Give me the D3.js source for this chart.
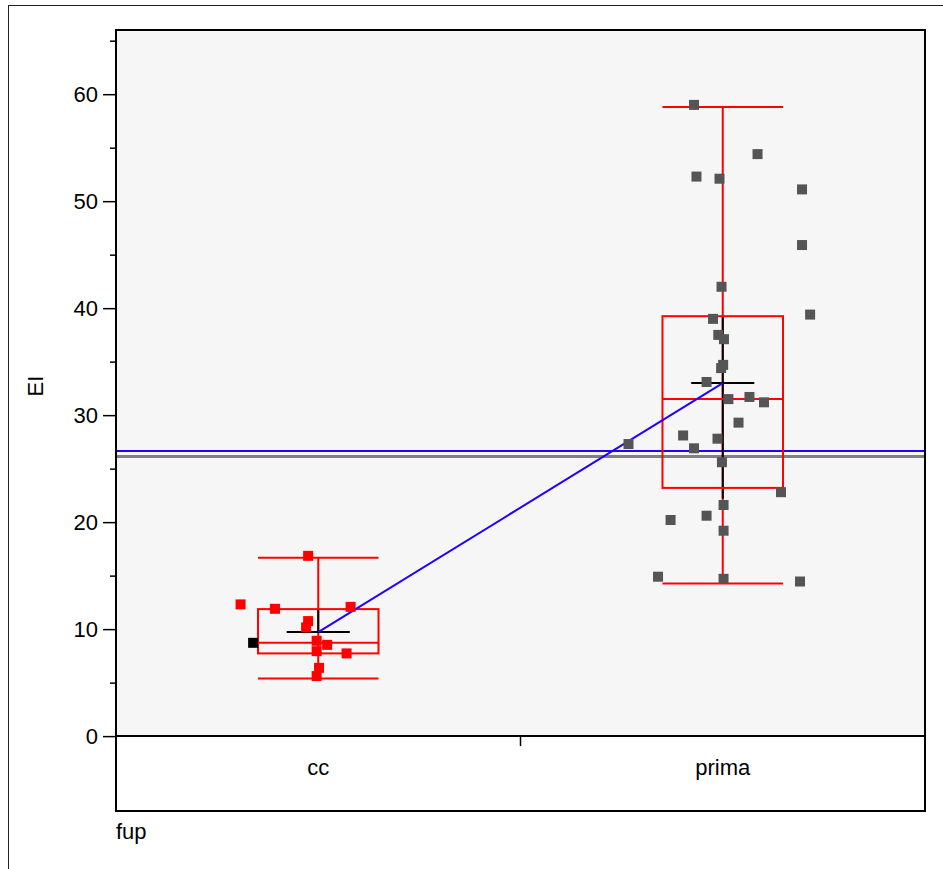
<!DOCTYPE html>
<html>
<head>
<meta charset="utf-8">
<script src="https://cdn.jsdelivr.net/npm/d3@7"></script>
<style>
  html, body { margin: 0; padding: 0; background: #fff; }
  svg { display: block; font-family: "Liberation Sans", Arial, sans-serif; }
</style>
</head>
<body>
<svg id="chart" width="943" height="869"></svg>
<script>
// Group labels on the x axis
const categories = ["cc", "prima"];

// EI values per group, with horizontal jitter (fraction of group spacing)
const ccValues   = [16.85, 12.31, 11.90, 12.08, 10.75, 10.16, 8.72, 8.91, 8.53, 7.94, 7.73, 6.38, 5.61];
const ccJitter   = [-0.025, -0.192, -0.107, 0.080, -0.025, -0.030, -0.161, -0.004, 0.022, -0.004, 0.070, 0.002, -0.004];
const ccSelected = [false, false, false, false, false, false, true, false, false, false, false, false, false];

const primaValues = [59.0, 54.4, 52.3, 52.1, 51.1, 45.9, 42.0, 39.4, 39.0, 37.5, 37.1, 34.7, 34.4, 33.1, 31.5, 31.7,
                     31.2, 29.3, 28.1, 27.8, 27.3, 26.9, 25.6, 22.8, 21.6, 20.2, 20.6, 19.2, 14.9, 14.7, 14.45];
const primaJitter = [-0.071, 0.086, -0.065, -0.008, 0.196, 0.196, -0.003, 0.216, -0.024, -0.011, 0.003, 0.001, -0.004, -0.040, 0.014, 0.066,
                     0.102, 0.039, -0.098, -0.013, -0.233, -0.071, -0.002, 0.144, 0.002, -0.129, -0.040, 0.002, -0.160, 0.002, 0.191];

// Box plot summaries per group (cc, prima)
const whiskerLow  = [5.39, 14.27];
const quartile1   = [7.73, 23.2];
const medians     = [8.72, 31.5];
const quartile3   = [11.87, 39.25];
const whiskerHigh = [16.66, 58.8];

// Group means and the black mean bar extent
const means     = [9.72, 33.0];
const meanBarLo = [9.72, 22.2];
const meanBarHi = [11.78, 39.2];

// Reference lines across the plot
const refBlue = 26.66;
const refGray = 26.14;

// Y axis ticks
const majorTicks = [0, 10, 20, 30, 40, 50, 60];
const minorTicks = [5, 15, 25, 35, 45, 55, 65];

const yTitle = "EI";
const xTitle = "fup";

const svg = d3.select("#chart");
const plot = { left: 116, right: 925, top: 30, bottom: 811 };

const y = d3.scaleLinear().domain([-7.0, 66.0]).range([plot.bottom, plot.top]);
const x = d3.scalePoint().domain(categories).range([plot.left, plot.right]).padding(0.5);
const step = x.step();

// outer frame
svg.append("rect").attr("x", 8.5).attr("y", 5.5).attr("width", 1000).attr("height", 1000)
  .attr("fill", "none").attr("stroke", "#222").attr("stroke-width", 1);

// shaded data region (values >= 0)
svg.append("rect")
  .attr("x", plot.left).attr("y", plot.top)
  .attr("width", plot.right - plot.left).attr("height", y(0) - plot.top)
  .attr("fill", "#f6f6f6");

const g = svg.append("g");

// reference lines
g.append("line").attr("x1", plot.left).attr("x2", plot.right)
  .attr("y1", y(refGray)).attr("y2", y(refGray))
  .attr("stroke", "#808080").attr("stroke-width", 3);
g.append("line").attr("x1", plot.left).attr("x2", plot.right)
  .attr("y1", y(refBlue)).attr("y2", y(refBlue))
  .attr("stroke", "#2200ff").attr("stroke-width", 2);

// box plots
const boxHalf = 0.149 * step;
categories.forEach((c, i) => {
  const cx = x(c);
  const bg = g.append("g").attr("stroke", "#ff0000").attr("stroke-width", 2).attr("fill", "none");
  bg.append("line").attr("x1", cx).attr("x2", cx).attr("y1", y(whiskerHigh[i])).attr("y2", y(whiskerLow[i]));
  bg.append("line").attr("x1", cx - boxHalf).attr("x2", cx + boxHalf).attr("y1", y(whiskerHigh[i])).attr("y2", y(whiskerHigh[i]));
  bg.append("line").attr("x1", cx - boxHalf).attr("x2", cx + boxHalf).attr("y1", y(whiskerLow[i])).attr("y2", y(whiskerLow[i]));
  // mean bar (black) inside the box
  g.append("line").attr("x1", cx).attr("x2", cx).attr("y1", y(meanBarHi[i])).attr("y2", y(meanBarLo[i]))
    .attr("stroke", "#000").attr("stroke-width", 2);
  const bx = g.append("g").attr("stroke", "#ff0000").attr("stroke-width", 2).attr("fill", "none");
  bx.append("rect").attr("x", cx - boxHalf).attr("y", y(quartile3[i]))
    .attr("width", 2 * boxHalf).attr("height", y(quartile1[i]) - y(quartile3[i]));
  bx.append("line").attr("x1", cx - boxHalf).attr("x2", cx + boxHalf).attr("y1", y(medians[i])).attr("y2", y(medians[i]));
  // mean tick
  g.append("line").attr("x1", cx - 0.078 * step).attr("x2", cx + 0.078 * step)
    .attr("y1", y(means[i])).attr("y2", y(means[i]))
    .attr("stroke", "#000").attr("stroke-width", 2);
});

// line connecting the group means
g.append("path")
  .datum(categories.map((c, i) => [x(c), y(means[i])]))
  .attr("d", d3.line())
  .attr("fill", "none").attr("stroke", "#2200ff").attr("stroke-width", 2);

// data points
const sq = 10;
const pts = [];
ccValues.forEach((v, i) => pts.push({ cat: "cc", v, j: ccJitter[i], color: ccSelected[i] ? "#000000" : "#ff0000" }));
primaValues.forEach((v, i) => pts.push({ cat: "prima", v, j: primaJitter[i], color: "#555555" }));
g.selectAll("rect.pt").data(pts).join("rect")
  .attr("class", "pt")
  .attr("x", d => x(d.cat) + d.j * step - sq / 2)
  .attr("y", d => y(d.v) - sq / 2)
  .attr("width", sq).attr("height", sq)
  .attr("fill", d => d.color);

// x axis line at zero
svg.append("line").attr("x1", plot.left).attr("x2", plot.right)
  .attr("y1", y(0)).attr("y2", y(0)).attr("stroke", "#000").attr("stroke-width", 2);
// divider tick between groups
svg.append("line").attr("x1", (x("cc") + x("prima")) / 2).attr("x2", (x("cc") + x("prima")) / 2)
  .attr("y1", y(0)).attr("y2", y(0) + 10).attr("stroke", "#000").attr("stroke-width", 1.5);

// category labels
svg.selectAll("text.cat").data(categories).join("text")
  .attr("class", "cat")
  .attr("x", d => x(d)).attr("y", 775)
  .attr("text-anchor", "middle").attr("font-size", 22).attr("fill", "#000")
  .text(d => d);

// y axis
const yAxis = d3.axisLeft(y).tickValues(majorTicks).tickSize(13).tickPadding(5).tickFormat(d3.format("d"));
const ya = svg.append("g").attr("transform", `translate(${plot.left},0)`).call(yAxis);
ya.select(".domain").remove();
ya.selectAll("line").attr("stroke", "#000").attr("stroke-width", 1.5);
ya.selectAll("text").attr("font-size", 22).attr("font-family", "Liberation Sans, Arial, sans-serif").attr("fill", "#000");
const yMinor = d3.axisLeft(y).tickValues(minorTicks).tickSize(6).tickFormat("");
const ym = svg.append("g").attr("transform", `translate(${plot.left},0)`).call(yMinor);
ym.select(".domain").remove();
ym.selectAll("line").attr("stroke", "#000").attr("stroke-width", 1.5);

// plot frame
svg.append("rect").attr("x", plot.left).attr("y", plot.top)
  .attr("width", plot.right - plot.left).attr("height", plot.bottom - plot.top)
  .attr("fill", "none").attr("stroke", "#000").attr("stroke-width", 2);

// titles
svg.append("text").attr("transform", "translate(43,386) rotate(-90)")
  .attr("text-anchor", "middle").attr("font-size", 22).attr("fill", "#000").text(yTitle);
svg.append("text").attr("x", plot.left).attr("y", 839)
  .attr("font-size", 22).attr("fill", "#000").text(xTitle);
</script>
</body>
</html>
